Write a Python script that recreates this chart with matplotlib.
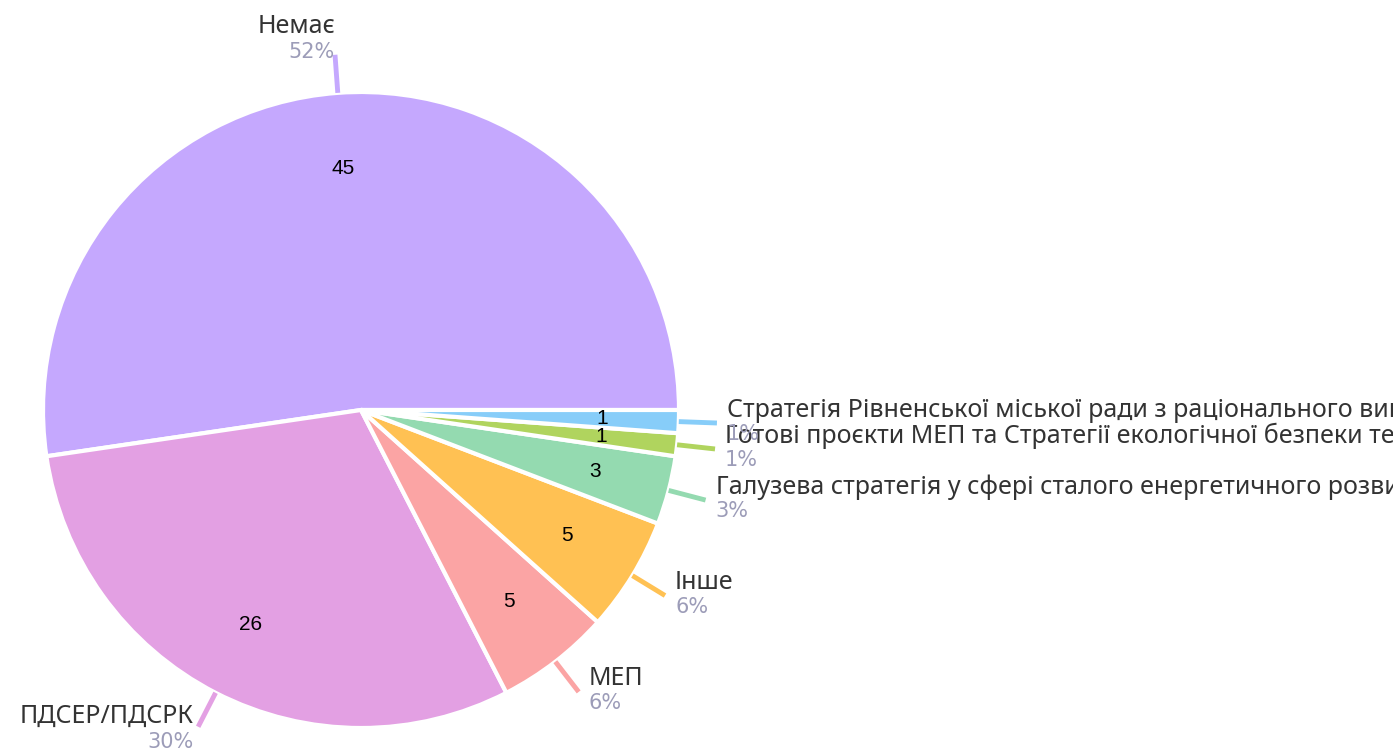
import matplotlib.pyplot as plt
import numpy as np

labels = ["Немає", "ПДСЕР/ПДСРК", "МЕП", "Інше",
          "Галузева стратегія у сфері сталого енергетичного розвитку",
          "Готові проєкти МЕП та Стратегії екологічної безпеки території",
          "Стратегія Рівненської міської ради з раціонального використання енергоресурсів"]
values = [45, 26, 5, 5, 3, 1, 1]
percents = ["52%", "30%", "6%", "6%", "3%", "1%", "1%"]
colors = ["#c5a8fe", "#e3a0e3", "#fba4a4", "#ffc153", "#94dab0", "#b0d45e", "#87cdf9"]

W, H = 1393, 754
fig = plt.figure(figsize=(W / 100, H / 100), dpi=100)
ax = fig.add_axes([0, 0, 1, 1])

cx, cy, R = 361, H - 410, 318

wedges, texts, autotexts = ax.pie(
    values, colors=colors, startangle=0, counterclock=True,
    center=(cx, cy), radius=R, frame=True,
    autopct=lambda p: '{:.0f}'.format(p * sum(values) / 100),
    pctdistance=0.76,
    wedgeprops=dict(edgecolor='white', linewidth=3),
    textprops=dict(fontsize=15, color='black', family=['Liberation Sans', 'DejaVu Sans']))
ax.set_xlim(0, W)
ax.set_ylim(0, H)
ax.set_aspect('equal')
ax.axis('off')

for i, w in enumerate(wedges):
    ang = np.deg2rad((w.theta1 + w.theta2) / 2)
    c, s = np.cos(ang), np.sin(ang)
    x0, y0 = cx + R * 1.0 * c, cy + R * 1.0 * s
    x1, y1 = cx + R * 1.12 * c, cy + R * 1.12 * s
    ax.plot([x0, x1], [y0, y1], color=w.get_facecolor(), lw=3.5,
            solid_capstyle='butt', clip_on=False)
    if s > 0.9:
        ha, dx = 'right', 0
        ly, py = y1 + 28, y1 + 3
    elif c >= 0:
        ha, dx = 'left', 10
        ly, py = y1 + 13, y1 - 11
    else:
        ha, dx = 'right', -5
        ly, py = y1 + 10, y1 - 15
    ax.text(x1 + dx, ly, labels[i], ha=ha, va='center', fontsize=18,
            color='#333333', family=['Noto Sans', 'DejaVu Sans'])
    ax.text(x1 + dx, py, percents[i], ha=ha, va='center', fontsize=15,
            color='#9c9cb8', family=['DejaVu Sans'])

fig.savefig('out.png', dpi=100)
